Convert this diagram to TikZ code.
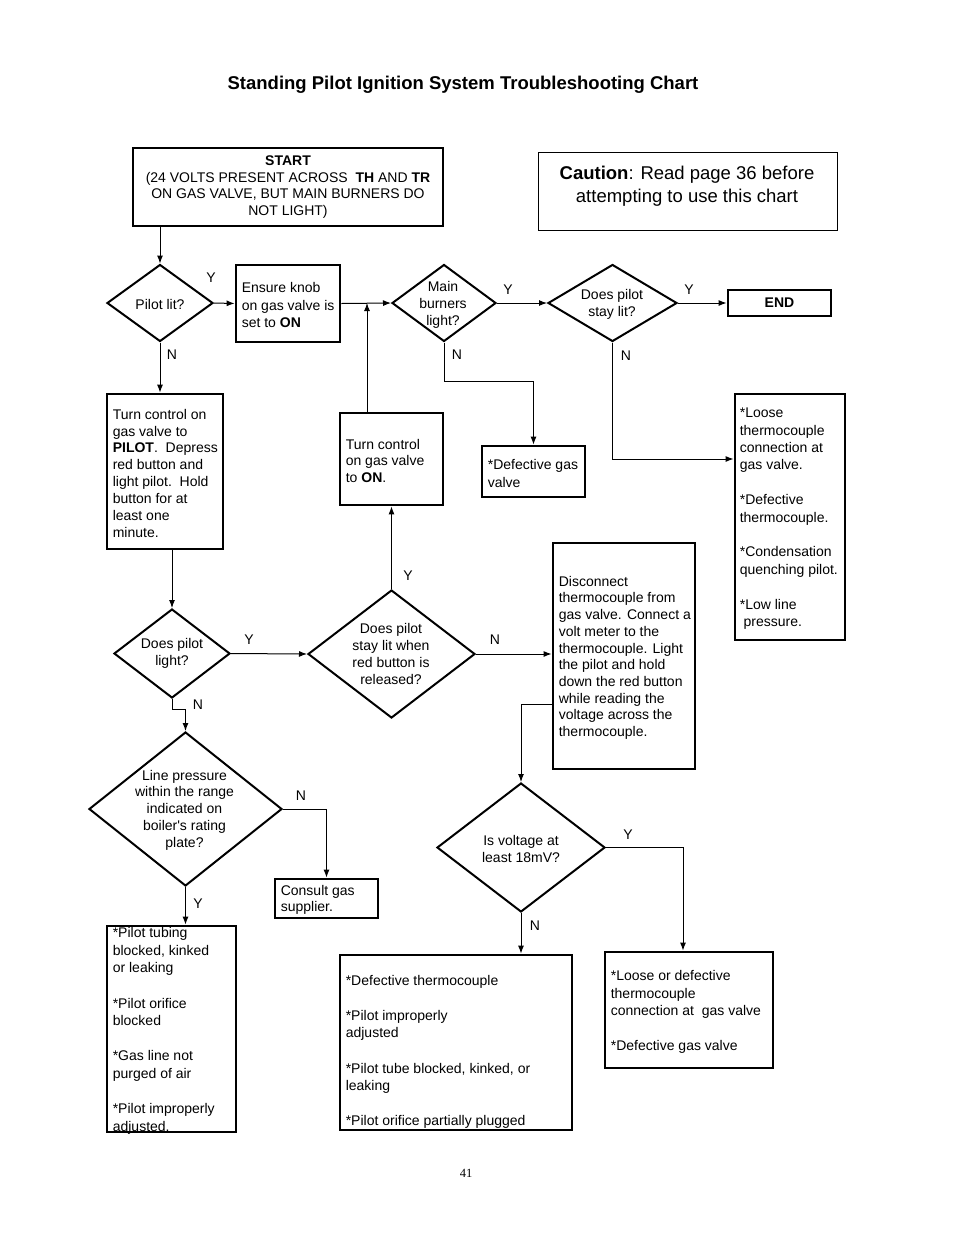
\documentclass[tikz,border=0pt]{standalone}
\usepackage{fontspec}
\setmainfont{Liberation Sans}
\newfontfamily\nq{Liberation Sans}[Ligatures=TeXOff]
\newfontfamily\serifpg{Liberation Serif}
\usetikzlibrary{shapes.geometric,arrows.meta}
\newcommand\fs[1]{\fontsize{14}{#1}\selectfont}
\begin{document}
\begin{tikzpicture}[x=1pt,y=-1pt,
  box/.style={draw, line width=2.8pt, rectangle, inner sep=0pt},
  dia/.style={draw, line width=2pt, diamond, inner sep=0pt},
  txt/.style={align=left, inner sep=0pt, font=\fs{17.4}, anchor=west, yshift=-1.8pt},
  ctxt/.style={align=center, inner sep=0pt, font=\fs{17}, yshift=-1.5pt},
  lab/.style={inner sep=0pt, font=\fs{17}, yshift=-1pt},
  arr/.style={line width=1pt, -{Latex[length=8pt,width=6pt]}},
]
\useasboundingbox (0,0) rectangle (954,1235);

% title
\node[inner sep=0pt, font=\bfseries\fontsize{18.5}{22}\selectfont] (title) at (463,85) {Standing Pilot Ignition System Troubleshooting Chart};

% start
\node[box, minimum width=310pt, minimum height=78pt, align=center, font=\fs{16.7}] (start) at (288,187)
 {\textbf{START}\\(24 VOLTS PRESENT ACROSS \ \textbf{TH} AND \textbf{TR}\\ON GAS VALVE, BUT MAIN BURNERS DO\\NOT LIGHT)};

% caution
\node[draw, line width=0.9pt, minimum width=299pt, minimum height=78pt] (caution) at (687.5,191) {};
\node[align=center, inner sep=0pt, font=\fontsize{18.5}{23}\selectfont] (cautiontxt) at (687,186)
 {\textbf{Caution}: Read page 36 before\\attempting to use this chart};

% row 1
\node[dia, minimum width=106pt, minimum height=77pt] (pl) at (160,303) {};
\node[ctxt] (plt) at (pl.center) {Pilot lit?};

\node[box, minimum width=104pt, minimum height=77pt] (ens) at (288,303.5) {};
\node[txt] (enst) at ([xshift=7pt]ens.west) {Ensure knob\\on gas valve is\\set to \textbf{ON}};

\node[dia, minimum width=104pt, minimum height=77pt] (mb) at (444,303) {};
\node[ctxt] (mbt) at (443,303.5) {Main\\burners\\light?};

\node[dia, minimum width=129pt, minimum height=77pt] (sl) at (612.5,303) {};
\node[ctxt] (slt) at (612,302.5) {Does pilot\\stay lit?};

\node[box, minimum width=103pt, minimum height=26pt, font=\fs{17}\bfseries] (end) at (779.5,303) {END};

% row 2
\node[box, minimum width=116pt, minimum height=155pt] (pil) at (165,471.5) {};
\node[txt, font=\fs{16.9}] (pilt) at ([xshift=7pt]pil.west)
 {Turn control on\\gas valve to\\\textbf{PILOT}.\ \ Depress\\red button and\\light pilot.\ \ Hold\\button for at\\least one\\minute.};

\node[box, minimum width=103pt, minimum height=92pt] (on) at (391.5,459) {};
\node[txt, font=\fs{16.7}] (ont) at ([xshift=7pt]on.west) {Turn control\\on gas valve\\to \textbf{ON}.};

\node[box, minimum width=103pt, minimum height=51pt] (dgv) at (533.5,471.5) {};
\node[txt] (dgvt) at ([xshift=7pt]dgv.west) {*Defective gas\\valve};

\node[box, minimum width=110pt, minimum height=246pt] (lt) at (790,517) {};
\node[txt] (ltt) at ([xshift=6pt]lt.west)
 {*Loose\\thermocouple\\connection at\\gas valve.\\[17.4pt]*Defective\\thermocouple.\\[17.4pt]*Condensation\\quenching pilot.\\[17.4pt]*Low line\\\ pressure.};

% row 3
\node[dia, minimum width=116pt, minimum height=89pt] (dpl) at (172,653.5) {};
\node[ctxt] (dplt) at (172,652) {Does pilot\\light?};

\node[dia, minimum width=167pt, minimum height=128pt] (slw) at (391.5,654) {};
\node[ctxt] (slwt) at (391,652.5) {Does pilot\\stay lit when\\red button is\\released?};

\node[box, minimum width=142pt, minimum height=226pt] (disc) at (624,656) {};
\node[txt, font=\fs{16.7}] (disct) at ([xshift=7pt]disc.west)
 {Disconnect\\thermocouple from\\gas valve. Connect a\\volt meter to the\\thermocouple. Light\\the pilot and hold\\down the red button\\while reading the\\voltage across the\\thermocouple.};

% row 4
\node[dia, minimum width=193pt, minimum height=154pt] (lp) at (185.5,809) {};
\node[ctxt, font=\fs{16.75}] (lpt) at (184.5,808.5) {Line pressure\\within the range\\indicated on\\boiler{\nq '}s rating\\plate?};

\node[box, minimum width=103pt, minimum height=39pt] (cons) at (326.5,898.5) {};
\node[txt, font=\fs{16}] (const) at ([xshift=7pt]cons.west) {Consult gas\\supplier.};

\node[dia, minimum width=168pt, minimum height=129pt] (iv) at (521,847.5) {};
\node[ctxt] (ivt) at (521,847) {Is voltage at\\least 18mV?};

% row 5
\node[box, minimum width=129pt, minimum height=206pt] (ptb) at (171.5,1029) {};
\node[txt, font=\fs{17.6}] (ptbt) at ([xshift=7pt]ptb.west)
 {*Pilot tubing\\blocked, kinked\\or leaking\\[17.6pt]*Pilot orifice\\blocked\\[17.6pt]*Gas line not\\purged of air\\[17.6pt]*Pilot improperly\\adjusted.};

\node[box, minimum width=232pt, minimum height=175pt] (dt) at (456,1042.5) {};
\node[txt, font=\fs{17.6}] (dtt) at ([xshift=7pt,yshift=-7.5pt]dt.west)
 {*Defective thermocouple\\[17.6pt]*Pilot improperly\\adjusted\\[17.6pt]*Pilot tube blocked, kinked, or\\leaking\\[17.6pt]*Pilot orifice partially plugged};

\node[box, minimum width=168pt, minimum height=116pt] (lod) at (689,1010) {};
\node[txt] (lodt) at ([xshift=7pt]lod.west)
 {*Loose or defective\\thermocouple\\connection at \ gas valve\\[17.4pt]*Defective gas valve};

% page number
\node[inner sep=0pt, font=\serifpg\fontsize{12.5}{14}\selectfont] (pg) at (466,1173) {41};

% connectors
\draw[arr] (start.south -| pl.north) -- (pl.north);
\draw[arr] (pl.east) -- (ens.west);
\draw[arr] (ens.east) -- (mb.west);
\coordinate (j1) at (367,303);
\draw[arr] (on.north -| j1) -- (j1);
\draw[arr] (mb.east) -- (sl.west);
\draw[arr] (sl.east) -- (end.west);
\draw[arr] (mb.south) -- ++(0,39) -| (dgv.north);
\draw[arr] (sl.south) |- (lt.west |- 0,459);
\draw[arr] (pl.south) -- (pl.south |- pil.north);
\draw[arr] (pil.south -| dpl.north) -- (dpl.north);
\draw[arr] (dpl.east) -- (slw.west);
\draw[arr] (slw.north) -- (slw.north |- on.south);
\draw[arr] (slw.east) -- (slw.east -| disc.west);
\draw[arr] (disc.west |- 0,704) -| (iv.north);
\draw[arr] (dpl.south) -- ++(0,10) -| (lp.north);
\draw[arr] (lp.east) -| (cons.north);
\draw[arr] (lp.south) -- (lp.south |- ptb.north);
\draw[arr] (iv.south) -- (iv.south |- dt.north);
\draw[arr] (iv.east) -| ([xshift=-6pt]lod.north);

% labels
\node[lab] (l1) at (211,277) {Y};
\node[lab] (l2) at (172,354) {N};
\node[lab] (l3) at (508,289) {Y};
\node[lab] (l4) at (457,354) {N};
\node[lab] (l5) at (689,289) {Y};
\node[lab] (l6) at (626,355) {N};
\node[lab] (l7) at (249,639) {Y};
\node[lab] (l8) at (495,639) {N};
\node[lab] (l9) at (408,575) {Y};
\node[lab] (l10) at (198,704) {N};
\node[lab] (l11) at (301,795) {N};
\node[lab] (l12) at (198,903) {Y};
\node[lab] (l13) at (535,925) {N};
\node[lab] (l14) at (628,834) {Y};
\end{tikzpicture}
\end{document}
